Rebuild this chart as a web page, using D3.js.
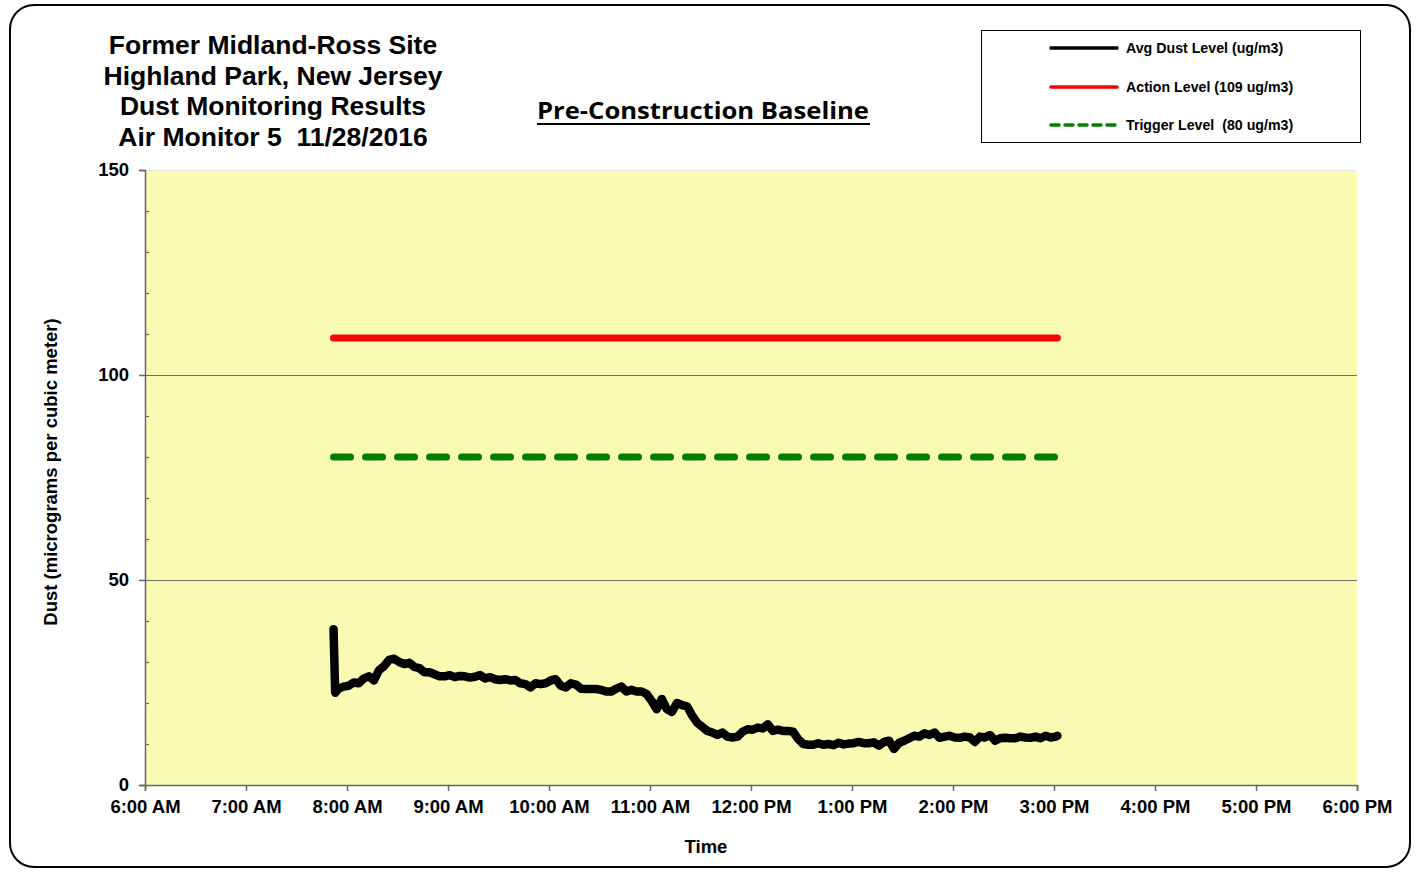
<!DOCTYPE html>
<html>
<head>
<meta charset="utf-8">
<script src="https://cdn.jsdelivr.net/npm/d3@7"></script>
<style>
  html, body { margin: 0; padding: 0; background: #fff; }
  svg { display: block; }
  text { white-space: pre; }
</style>
</head>
<body>
<svg id="chart" width="1422" height="872"></svg>
<script>
// ---------------- DATA ----------------
const titleLines = ["Former Midland-Ross Site", "Highland Park, New Jersey", "Dust Monitoring Results", "Air Monitor 5  11/28/2016"];
const subtitle = "Pre-Construction Baseline";
const xTickLabels = ["6:00 AM","7:00 AM","8:00 AM","9:00 AM","10:00 AM","11:00 AM","12:00 PM","1:00 PM","2:00 PM","3:00 PM","4:00 PM","5:00 PM","6:00 PM"];
const yTickValues = [0, 50, 100, 150];
const seriesNames = ["Avg Dust Level (ug/m3)", "Action Level (109 ug/m3)", "Trigger Level  (80 ug/m3)"];
const actionLevel = 109;
const triggerLevel = 80;
const levelStart = "7:52";
const levelEnd = "15:02";

const times = [
 "7:52","7:53","7:55","7:58","8:01","8:04","8:07","8:10","8:13","8:16","8:19","8:22","8:25","8:28","8:31","8:34","8:37","8:40","8:43","8:46","8:49","8:52","8:55","8:58",
 "9:01","9:04","9:07","9:10","9:13","9:16","9:19","9:22","9:25","9:28","9:31","9:34","9:37","9:40","9:43","9:46","9:49","9:52","9:55","9:58",
 "10:01","10:04","10:07","10:10","10:13","10:16","10:19","10:22","10:25","10:28","10:31","10:34","10:37","10:40","10:43","10:46","10:49","10:52","10:55","10:58",
 "11:01","11:04","11:07","11:10","11:13","11:16","11:19","11:22","11:25","11:28","11:31","11:34","11:37","11:40","11:43","11:46","11:49","11:52","11:55","11:58",
 "12:01","12:04","12:07","12:10","12:13","12:16","12:19","12:22","12:25","12:28","12:31","12:34","12:37","12:40","12:43","12:46","12:49","12:52","12:55","12:58",
 "13:01","13:04","13:07","13:10","13:13","13:16","13:19","13:22","13:25","13:28","13:31","13:34","13:37","13:40","13:43","13:46","13:49","13:52","13:55","13:58",
 "14:01","14:04","14:07","14:10","14:13","14:16","14:19","14:22","14:25","14:28","14:31","14:34","14:37","14:40","14:43","14:46","14:49","14:52","14:55","14:58",
 "15:01","15:02"
];
const dust = [
 38,22.5,23.5,24,24.2,25,24.8,26,26.5,25.5,28,29,30.5,30.8,30,29.5,29.8,28.8,28.5,27.5,27.5,27,26.5,26.5,
 26.8,26.3,26.6,26.5,26.2,26.4,26.8,26,26.3,25.8,25.6,25.8,25.5,25.6,24.8,24.6,23.8,24.8,24.6,24.8,
 25.5,25.8,24.2,23.8,24.8,24.5,23.5,23.4,23.4,23.4,23.2,22.8,22.8,23.5,24,22.8,23.2,22.8,22.8,22.2,
 20.5,18.5,21,18.5,17.8,20,19.5,19.2,17,15.2,14.2,13.2,12.8,12.2,12.8,11.8,11.6,11.8,13,13.6,
 13.5,14,13.8,14.8,13.2,13.5,13.2,13.2,13,11.2,10,9.8,9.8,10.2,9.8,10,9.7,10.3,9.9,10.1,
 10.2,10.5,10.2,10.2,10.4,9.6,10.5,10.8,8.8,10.3,10.8,11.4,12,11.8,12.6,12.2,12.8,11.5,11.8,12,
 11.6,11.5,11.8,11.6,10.5,11.8,11.6,12.2,10.8,11.4,11.5,11.4,11.4,11.8,11.6,11.5,11.8,11.4,12,11.6,
 11.8,12
];

// ---------------- HELPERS ----------------
function t(str) {
  const [h, m] = str.split(":").map(Number);
  return new Date(2016, 10, 28, h, m);
}
const svg = d3.select("#chart");
const plot = { left: 145, right: 1357, top: 170, bottom: 785 };
const font = "'Liberation Sans', Arial, sans-serif";

const x = d3.scaleTime()
  .domain([t("6:00"), t("18:00")])
  .range([plot.left, plot.right]);
const y = d3.scaleLinear()
  .domain([0, 150])
  .range([plot.bottom, plot.top]);

// outer frame
svg.append("rect")
  .attr("x", 10).attr("y", 5).attr("width", 1400).attr("height", 862)
  .attr("rx", 24).attr("ry", 24)
  .attr("fill", "#fff").attr("stroke", "#000").attr("stroke-width", 2);

// plot background
svg.append("rect")
  .attr("x", plot.left).attr("y", plot.top)
  .attr("width", plot.right - plot.left).attr("height", plot.bottom - plot.top)
  .attr("fill", "#F9FBB3");
svg.append("line")
  .attr("x1", plot.left).attr("x2", plot.right)
  .attr("y1", plot.top + 0.5).attr("y2", plot.top + 0.5)
  .attr("stroke", "#e4e4e4").attr("stroke-width", 1);

// gridlines
svg.append("g").selectAll("line")
  .data([50, 100])
  .join("line")
  .attr("x1", plot.left).attr("x2", plot.right)
  .attr("y1", d => Math.round(y(d)) + 0.5).attr("y2", d => Math.round(y(d)) + 0.5)
  .attr("stroke", "#6e6e5e").attr("stroke-width", 1.2);

// y axis
const yAxis = d3.axisLeft(y)
  .tickValues(yTickValues)
  .tickSize(6)
  .tickPadding(10)
  .tickFormat(d3.format("d"));
const gy = svg.append("g")
  .attr("transform", `translate(${plot.left},0)`)
  .call(yAxis);
gy.select(".domain").attr("stroke", "#666").attr("stroke-width", 1.5);
gy.selectAll(".tick line").attr("stroke", "#666").attr("stroke-width", 1.5);
gy.selectAll(".tick text")
  .attr("font-family", font).attr("font-weight", "bold").attr("font-size", 18.5).attr("fill", "#000");
// minor y ticks
svg.append("g").selectAll("line")
  .data(d3.range(0, 151, 10).filter(v => v % 50 !== 0))
  .join("line")
  .attr("x1", plot.left).attr("x2", plot.left + 4)
  .attr("y1", d => Math.round(y(d)) + 0.5).attr("y2", d => Math.round(y(d)) + 0.5)
  .attr("stroke", "#666").attr("stroke-width", 1.2);

// x axis
const xTicks = d3.timeHour.range(t("6:00"), d3.timeMinute.offset(t("18:00"), 1));
const xAxis = d3.axisBottom(x)
  .tickValues(xTicks)
  .tickSize(6)
  .tickPadding(9)
  .tickFormat((d, i) => xTickLabels[i]);
const gx = svg.append("g")
  .attr("transform", `translate(0,${plot.bottom})`)
  .call(xAxis);
gx.select(".domain").attr("stroke", "#666").attr("stroke-width", 1.5);
gx.selectAll(".tick line").attr("stroke", "#666").attr("stroke-width", 1.5);
gx.selectAll(".tick text")
  .attr("font-family", font).attr("font-weight", "bold").attr("font-size", 18.5).attr("fill", "#000");

// axis titles
svg.append("text")
  .attr("x", 706).attr("y", 853)
  .attr("text-anchor", "middle")
  .attr("font-family", font).attr("font-weight", "bold").attr("font-size", 18.5)
  .text("Time");
svg.append("text")
  .attr("transform", "translate(57,472) rotate(-90)")
  .attr("text-anchor", "middle")
  .attr("font-family", font).attr("font-weight", "bold").attr("font-size", 18.5)
  .text("Dust (micrograms per cubic meter)");

// level lines
svg.append("line")
  .attr("x1", x(t(levelStart))).attr("x2", x(t(levelEnd)))
  .attr("y1", y(actionLevel)).attr("y2", y(actionLevel))
  .attr("stroke", "#FF0000").attr("stroke-width", 7).attr("stroke-linecap", "round");
svg.append("line")
  .attr("x1", x(t(levelStart))).attr("x2", x(t(levelEnd)))
  .attr("y1", y(triggerLevel)).attr("y2", y(triggerLevel))
  .attr("stroke", "#008000").attr("stroke-width", 7).attr("stroke-linecap", "round")
  .attr("stroke-dasharray", "17,15");

// dust series
const pts = times.map((s, i) => ({ t: t(s), v: dust[i] }));
const line = d3.line().x(d => x(d.t)).y(d => y(d.v));
svg.append("path")
  .datum(pts)
  .attr("d", line)
  .attr("fill", "none")
  .attr("stroke", "#000").attr("stroke-width", 8.5)
  .attr("stroke-linecap", "round").attr("stroke-linejoin", "round");

// title
const title = svg.append("text")
  .attr("text-anchor", "middle")
  .attr("font-family", font).attr("font-weight", "bold").attr("font-size", 26.5);
titleLines.forEach((l, i) => {
  title.append("tspan").attr("x", 273).attr("y", 54 + i * 30.7).text(l);
});

// subtitle
svg.append("text")
  .attr("x", 703).attr("y", 119)
  .attr("text-anchor", "middle")
  .attr("font-family", "'Open Sans', 'DejaVu Sans', sans-serif").attr("font-weight", "bold").attr("font-size", 24)
  .attr("textLength", 332).attr("lengthAdjust", "spacingAndGlyphs")
  .text(subtitle);
svg.append("line")
  .attr("x1", 537).attr("x2", 870).attr("y1", 124).attr("y2", 124)
  .attr("stroke", "#000").attr("stroke-width", 2);

// legend
const lg = svg.append("g");
lg.append("rect")
  .attr("x", 981.5).attr("y", 30.5).attr("width", 379).attr("height", 112)
  .attr("fill", "#fff").attr("stroke", "#000").attr("stroke-width", 1);
const legendStyles = [
  { color: "#000", dash: null, y: 48 },
  { color: "#FF0000", dash: null, y: 87 },
  { color: "#008000", dash: "8,6", y: 125 }
];
seriesNames.forEach((name, i) => {
  const s = legendStyles[i];
  lg.append("line")
    .attr("x1", 1051).attr("x2", 1117).attr("y1", s.y).attr("y2", s.y)
    .attr("stroke", s.color).attr("stroke-width", 3.5)
    .attr("stroke-linecap", "round")
    .attr("stroke-dasharray", s.dash);
  lg.append("text")
    .attr("x", 1126).attr("y", s.y + 5)
    .attr("font-family", font).attr("font-weight", "bold").attr("font-size", 14.2)
    .text(name);
});
</script>
</body>
</html>
